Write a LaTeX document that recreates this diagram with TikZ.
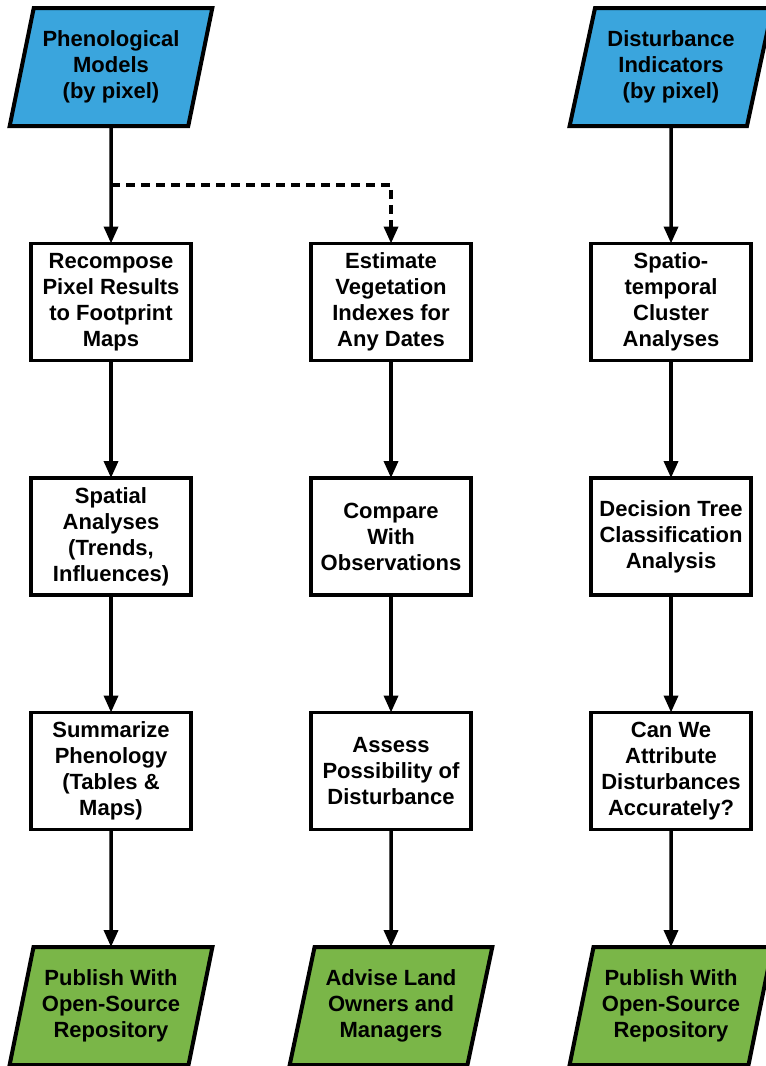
\documentclass[tikz,border=0pt]{standalone}
\usepackage{fontspec}
\setmainfont{Liberation Sans}
\usetikzlibrary{positioning,arrows.meta,shapes.geometric,calc}
\definecolor{inblue}{HTML}{3AA5DD}
\definecolor{outgreen}{HTML}{7AB648}
\tikzset{
  box/.style={draw=black, line width=3.5pt, fill=white, align=center, font=\fontsize{22}{26}\selectfont\bfseries, minimum width=160pt, minimum height=117pt, inner sep=2pt, outer sep=0pt},
  data/.style={box, trapezium, trapezium left angle=74, trapezium right angle=106, trapezium stretches=true, minimum width=203pt, minimum height=118pt, line width=4pt},
  src/.style={data, fill=inblue},
  pub/.style={data, fill=outgreen},
  arr/.style={-{Triangle[length=17pt,width=14pt]}, line width=3.5pt},
  darr/.style={arr, dash pattern=on 9pt off 6pt}}

\begin{document}
\begin{tikzpicture}[x=1pt, y=1pt, node distance=117.5pt and 120pt]
\useasboundingbox (0,0) rectangle (766,-1066);
% left column
\node[src] (phen) at (111,-67) {Phenological\\Models\\(by pixel)};
\node[box, below=of phen] (recomp) {Recompose\\Pixel Results\\to Footprint\\Maps};
\node[box, below=of recomp] (spat) {Spatial\\Analyses\\(Trends,\\Influences)};
\node[box, below=of spat] (summ) {Summarize\\Phenology\\(Tables \&\\Maps)};
\node[pub, below=of summ] (publ) {Publish With\\Open-Source\\Repository};
% middle column
\node[box, right=of recomp] (estim) {Estimate\\Vegetation\\Indexes for\\Any Dates};
\node[box, below=of estim] (comp) {Compare\\With\\Observations};
\node[box, below=of comp] (assess) {Assess\\Possibility of\\Disturbance};
\node[pub, below=of assess] (advise) {Advise Land\\Owners and\\Managers};
% right column
\node[box, right=of estim] (clust) {Spatio-\\temporal\\Cluster\\Analyses};
\node[src, above=of clust] (dist) {Disturbance\\Indicators\\(by pixel)};
\node[box, below=of clust] (tree) {Decision Tree\\Classification\\Analysis};
\node[box, below=of tree] (attr) {Can We\\Attribute\\Disturbances\\Accurately?};
\node[pub, below=of attr] (pubr) {Publish With\\Open-Source\\Repository};
\coordinate (split) at ($(phen.south)!0.5!(recomp.north)$);

\draw[arr] (phen) -- (recomp); \draw[arr] (recomp) -- (spat);
\draw[arr] (spat) -- (summ); \draw[arr] (summ) -- (publ);
\draw[darr] (split) -| (estim);
\draw[arr] (estim) -- (comp); \draw[arr] (comp) -- (assess); \draw[arr] (assess) -- (advise);
\draw[arr] (dist) -- (clust); \draw[arr] (clust) -- (tree);
\draw[arr] (tree) -- (attr); \draw[arr] (attr) -- (pubr);
\end{tikzpicture}
\end{document}
